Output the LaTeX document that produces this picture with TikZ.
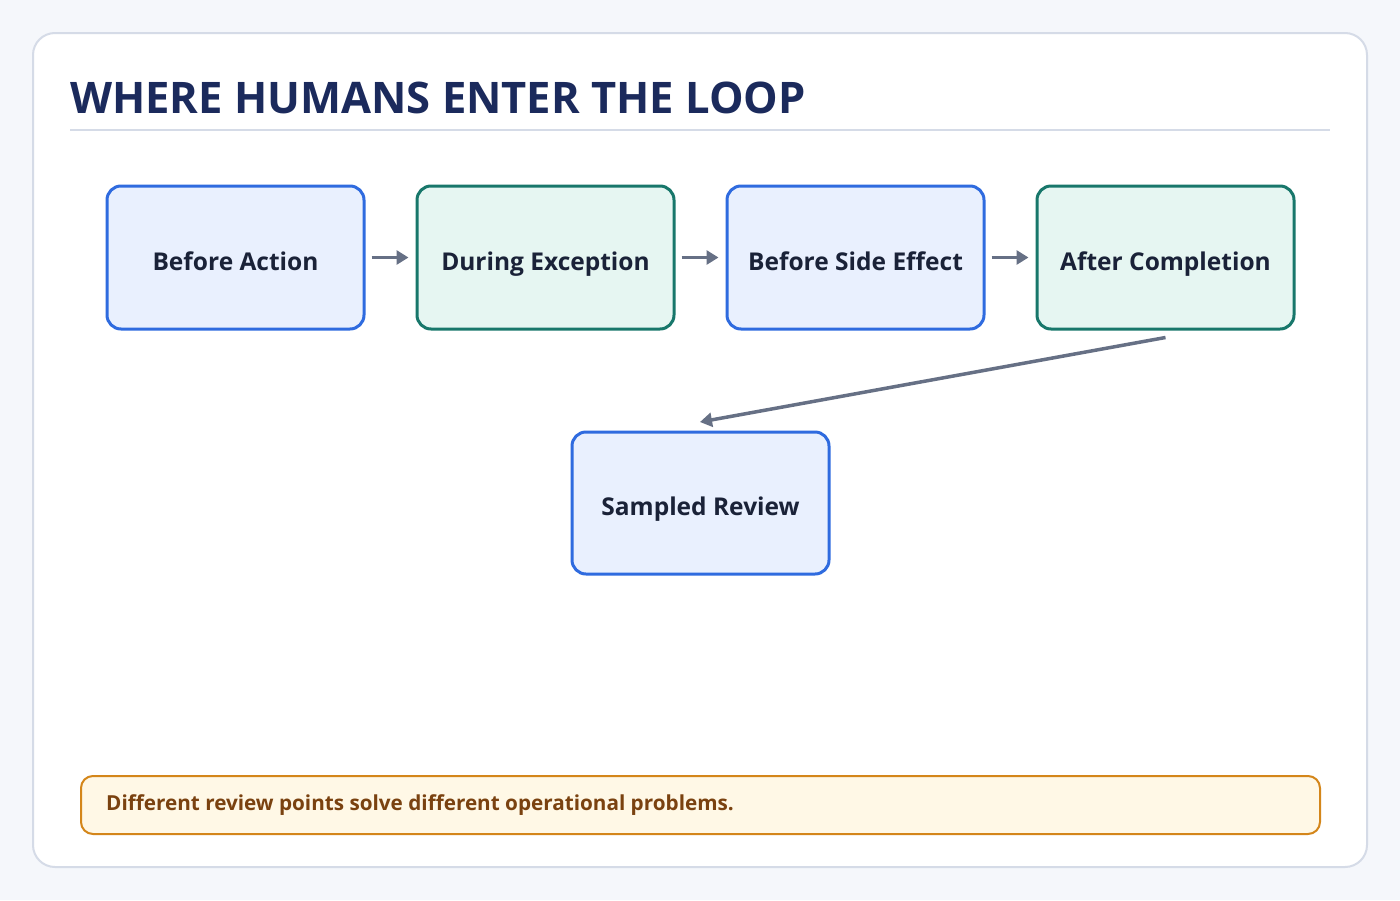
\documentclass[tikz,border=0pt]{standalone}
\usepackage{fontspec}
\setmainfont{Open Sans}
\usetikzlibrary{arrows.meta}
\definecolor{bg}{HTML}{F5F7FB}
\definecolor{cardline}{HTML}{D5DBE7}
\definecolor{titlec}{HTML}{1B2A5C}
\definecolor{bstroke}{HTML}{2F6BDF}
\definecolor{bfill}{HTML}{E9F0FE}
\definecolor{gstroke}{HTML}{18776B}
\definecolor{gfill}{HTML}{E6F6F2}
\definecolor{txt}{HTML}{1A2238}
\definecolor{arr}{HTML}{667085}
\definecolor{nstroke}{HTML}{D4861A}
\definecolor{nfill}{HTML}{FFF8E6}
\definecolor{ntxt}{HTML}{7A4210}
\begin{document}
\begin{tikzpicture}[x=1pt,y=-1pt,
  stagebox/.style={draw, line width=3pt, rounded corners=14pt, minimum width=257pt, minimum height=143pt, inner sep=0pt, text height=30pt, text depth=5pt, text=txt, font=\fontsize{24.5}{28}\selectfont\bfseries},
  bluebox/.style={stagebox, draw=bstroke, fill=bfill},
  greenbox/.style={stagebox, draw=gstroke, fill=gfill},
  conn/.style={draw=arr, line width=3.5pt, -{Triangle[length=12pt,width=14pt]}}]
\fill[bg] (0,0) rectangle (1400,900);
\useasboundingbox (0,0) rectangle (1400,900);
\draw[cardline, fill=white, line width=2pt, rounded corners=22pt] (33,33) rectangle (1367,867);
\node[anchor=base west, inner sep=0pt, text=titlec, font=\fontsize{43.5}{50}\selectfont\bfseries] (title) at (70,113) {WHERE HUMANS ENTER THE LOOP};
\draw[cardline, line width=2pt] (70,130) -- (1330,130);
\node[bluebox] (a) at (235.5,257.5) {Before Action};
\node[greenbox] (b) at (545.5,257.5) {During Exception};
\node[bluebox] (c) at (855.5,257.5) {Before Side Effect};
\node[greenbox] (d) at (1165.5,257.5) {After Completion};
\node[bluebox, minimum height=142pt] (e) at (700.5,503) {Sampled Review};
\draw[conn] ([xshift=6pt]a.east) -- ([xshift=-7pt]b.west);
\draw[conn] ([xshift=6pt]b.east) -- ([xshift=-7pt]c.west);
\draw[conn] ([xshift=6pt]c.east) -- ([xshift=-7pt]d.west);
\coordinate (dend) at (700,422);
\draw[conn] ([yshift=-7pt]d.south) -- (dend);
\node[draw=nstroke, fill=nfill, line width=2pt, rounded corners=12pt, minimum width=1239pt, minimum height=58pt, inner sep=0pt] (note) at (700.5,805) {};
\node[anchor=west, inner sep=0pt, text=ntxt, font=\fontsize{20.7}{24}\selectfont\bfseries] (notetext) at (106,805) {Different review points solve different operational problems.};
\end{tikzpicture}
\end{document}
